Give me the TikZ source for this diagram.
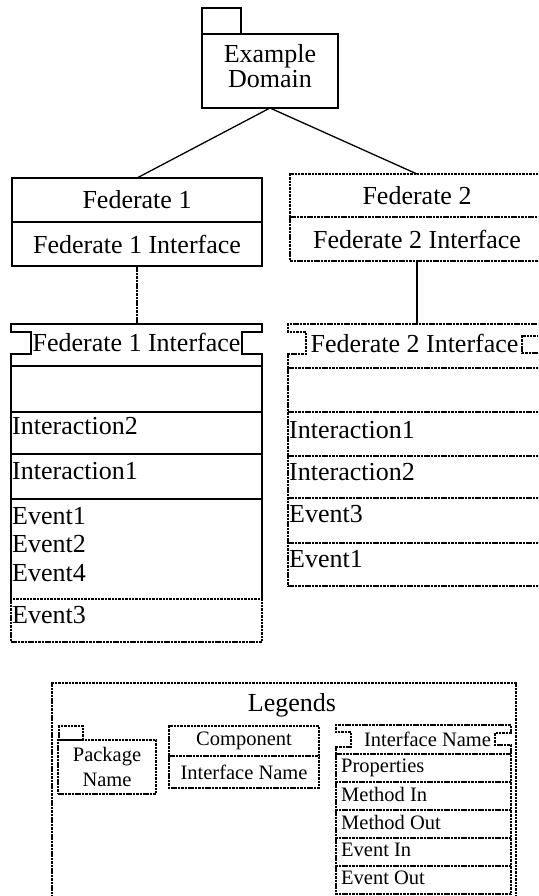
\documentclass[tikz,border=0pt]{standalone}
\usepackage{fontspec}
\setmainfont{Liberation Serif}
\usepackage{tikz}

\begin{document}
\begin{tikzpicture}[x=1pt,y=-1pt,font=\fontsize{26}{28.5}\selectfont,
    wire/.style={line width=1.3pt},
    dwire/.style={wire,dash pattern=on 2.5pt off 0.9pt},
    cell/.style={draw,wire,anchor=north west,inner sep=0pt,outer sep=0pt},
    dcell/.style={cell,dwire},
    head/.style={anchor=north west,inner sep=0pt,outer sep=0pt},
    entry/.style={anchor=north west,inner sep=0pt,align=left},
    small/.style={font=\fontsize{20.5}{25}\selectfont}]
  \useasboundingbox (0,0) rectangle (538,896);
  \clip (0,0) rectangle (538,896);
  % domain package
  \node[cell,minimum width=39pt,minimum height=26pt] (domtab) at (202,8) {};
  \node[cell,minimum width=136pt,minimum height=74pt,align=center] (dom) at (202,34)
    {Example\\[-3.5pt]Domain\rule[-10pt]{0pt}{0pt}};
  % federates
  \node[cell,minimum width=250pt,minimum height=44pt] (fed1) at (12,178) {Federate 1};
  \node[cell,minimum width=250pt,minimum height=44pt] (fed1i) at (fed1.south west) {Federate 1 Interface};
  \node[dcell,minimum width=254pt,minimum height=43pt] (fed2) at (290,174) {Federate 2};
  \node[head,minimum width=254pt,minimum height=44pt] (fed2i) at (fed2.south west) {Federate 2 Interface};
  \draw[dwire] (fed2i.north west) |- (fed2i.south east) -- (fed2i.north east);
  \draw[wire] (dom.south) -- (fed1.north);
  \draw[wire] (dom.south) -- (fed2.north);
  % interface of federate 1
  \node[head,minimum width=251pt,minimum height=42pt] (ifc1) at (11,324) {Federate 1 Interface\rule[-5pt]{0pt}{0pt}};
  \draw[wire] (ifc1.south west) -- ++(0,-12) -- ++(20,0) -- ++(0,-22) -- ++(-20,0) -- (ifc1.north west)
    -- (ifc1.north east) -- ++(0,8) -- ++(-20,0) -- ++(0,22) -- ++(20,0) -- (ifc1.south east);
  \draw[dwire] (fed1i.south) -- (fed1i.south |- ifc1.north);
  \node[cell,minimum width=251pt,minimum height=46pt] (ifc1a) at (ifc1.south west) {};
  \node[cell,minimum width=251pt,minimum height=42pt] (ifc1b) at (ifc1a.south west) {};
  \node[cell,minimum width=251pt,minimum height=45pt] (ifc1c) at (ifc1b.south west) {};
  \node[head,minimum width=251pt,minimum height=100pt] (ifc1d) at (ifc1c.south west) {};
  \draw[wire] (ifc1d.north west) -- (ifc1d.south west) (ifc1d.north east) -- (ifc1d.south east);
  \node[dcell,minimum width=251pt,minimum height=43pt] (ifc1e) at (ifc1d.south west) {};
  \node[entry] (t1b) at ([shift={(1,5)}]ifc1b.north west) {Interaction2};
  \node[entry] (t1c) at ([shift={(1,8)}]ifc1c.north west) {Interaction1};
  \node[entry] (t1d) at ([shift={(1,8)}]ifc1d.north west) {Event1\\Event2\\Event4};
  \node[entry] (t1e) at ([shift={(1,7)}]ifc1e.north west) {Event3};
  % interface of federate 2
  \node[head,minimum width=253pt,minimum height=44pt] (ifc2) at (288,324) {Federate 2 Interface\rule[-5pt]{0pt}{0pt}};
  \draw[dwire] (ifc2.south west) -- ++(0,-14) -- ++(18,0) -- ++(0,-22) -- ++(-18,0) -- (ifc2.north west)
    -- (ifc2.north east) -- ++(0,12) -- ++(-19,0) -- ++(0,17) -- ++(19,0) -- (ifc2.south east);
  \draw[wire] (fed2i.south) -- (fed2i.south |- ifc2.north);
  \node[head,minimum width=253pt,minimum height=44pt] (ifc2a) at (ifc2.south west) {};
  \node[head,minimum width=253pt,minimum height=44pt] (ifc2b) at (ifc2a.south west) {};
  \node[head,minimum width=253pt,minimum height=42pt] (ifc2c) at (ifc2b.south west) {};
  \node[head,minimum width=253pt,minimum height=45pt] (ifc2d) at (ifc2c.south west) {};
  \node[head,minimum width=253pt,minimum height=43pt] (ifc2e) at (ifc2d.south west) {};
  \foreach \r in {ifc2,ifc2a,ifc2b,ifc2c,ifc2d,ifc2e}
    \draw[dwire] (\r.south west) -- (\r.south east);
  \draw[dwire] (ifc2a.north west) -- (ifc2e.south west) (ifc2a.north east) -- (ifc2e.south east);
  \node[entry] (t2b) at ([shift={(1,9)}]ifc2b.north west) {Interaction1};
  \node[entry] (t2c) at ([shift={(1,7)}]ifc2c.north west) {Interaction2};
  \node[entry] (t2d) at ([shift={(1,7)}]ifc2d.north west) {Event3};
  \node[entry] (t2e) at ([shift={(1,7)}]ifc2e.north west) {Event1};
  % legends
  \node[dcell,minimum width=464pt,minimum height=230pt] (leg) at (52,683) {};
  \node (legtitle) at (292,705) {Legends};
  \node[dcell,minimum width=24pt,minimum height=14pt] (lpkgtab) at (59,726) {};
  \node[dcell,small,minimum width=98pt,minimum height=54pt,align=center] (lpkg) at (58,740) {Package\\Name};
  \node[dcell,small,minimum width=150pt,minimum height=30pt] (lcomp) at (169,726) {Component};
  \node[head,small,minimum width=150pt,minimum height=32pt] (lcompi) at (lcomp.south west) {Interface Name};
  \draw[dwire] (lcompi.north west) |- (lcompi.south east) -- (lcompi.north east);
  \node[head,small,minimum width=175pt,minimum height=29pt] (lifc) at (336,725) {\hspace{8pt}Interface Name};
  \draw[dwire] (lifc.south west) -- ++(0,-7) -- ++(15,0) -- ++(0,-15) -- ++(-15,0) -- (lifc.north west)
    -- (lifc.north east) -- ++(0,8) -- ++(-16,0) -- ++(0,12) -- ++(16,0) -- (lifc.south east);
  \draw[dwire] (lifc.south west) -- (lifc.south east);
  \foreach \t [count=\i] in {Properties,Method In,Method Out,Event In,Event Out} {
    \node[head,minimum width=175pt,minimum height=28pt] (lrow\i) at (336,726+28*\i) {};
    \draw[dwire] (lrow\i.north west) |- (lrow\i.south east) -- (lrow\i.north east);
    \node[entry,small] (ltxt\i) at ([shift={(5,5)}]lrow\i.north west) {\t};
  }
\end{tikzpicture}
\end{document}
